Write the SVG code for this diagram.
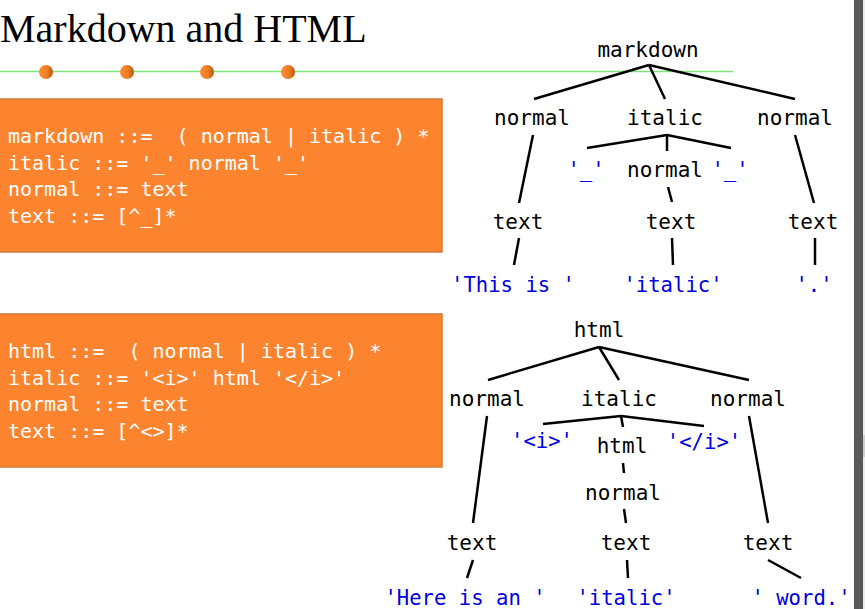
<svg xmlns="http://www.w3.org/2000/svg" width="865" height="609" viewBox="0 0 865 609">
<defs>
<linearGradient id="dot" x1="0" y1="0" x2="1" y2="0">
<stop offset="0" stop-color="#fb8f35"/>
<stop offset="0.6" stop-color="#ec7a22"/>
<stop offset="1" stop-color="#b9570f"/>
</linearGradient>
<style>
.title{font-family:"Liberation Serif",serif;font-size:40px;fill:#000}
.code{font-family:"DejaVu Sans Mono","Liberation Mono",monospace;font-size:20px;fill:#fff;white-space:pre}
.box{fill:#fd842e;stroke:#cf7a3c;stroke-width:1.5}
.lbl{font-family:"DejaVu Sans Mono",monospace;font-size:21px;fill:#000;text-anchor:middle;white-space:pre}
.leaf{font-family:"DejaVu Sans Mono",monospace;font-size:20.6px;fill:#0000e0;text-anchor:middle;white-space:pre}
.edges line{stroke:#000;stroke-width:2.5;stroke-linecap:butt}
</style>
</defs>
<rect width="865" height="609" fill="#fff"/>
<text class="title" x="0" y="42">Markdown and HTML</text>
<line x1="0" y1="71.5" x2="733" y2="71.5" stroke="#80e27a" stroke-width="1.5"/>
<g id="dots" fill="url(#dot)">
<circle cx="46" cy="72" r="7"/>
<circle cx="127" cy="72" r="7"/>
<circle cx="207" cy="72" r="7"/>
<circle cx="288" cy="72" r="7"/>
</g>
<g id="grammar-markdown">
<rect class="box" x="-1" y="99" width="443" height="153"/>
<text class="code" x="8" y="143">markdown ::=  ( normal | italic ) *</text>
<text class="code" x="8" y="169.5">italic ::= '_' normal '_'</text>
<text class="code" x="8" y="196">normal ::= text</text>
<text class="code" x="8" y="222.5">text ::= [^_]*</text>
</g>
<g id="grammar-html">
<rect class="box" x="-1" y="314" width="443" height="153"/>
<text class="code" x="8" y="358">html ::=  ( normal | italic ) *</text>
<text class="code" x="8" y="384.5">italic ::= '&lt;i&gt;' html '&lt;/i&gt;'</text>
<text class="code" x="8" y="411">normal ::= text</text>
<text class="code" x="8" y="437.5">text ::= [^&lt;&gt;]*</text>
</g>
<g id="connectors" class="edges">
<line x1="649" y1="65" x2="534" y2="99"/>
<line x1="649" y1="65" x2="665" y2="99"/>
<line x1="649" y1="65" x2="795" y2="99"/>
<line x1="667" y1="135" x2="587" y2="148"/>
<line x1="667" y1="135" x2="667" y2="151"/>
<line x1="667" y1="135" x2="731" y2="148"/>
<line x1="668" y1="187" x2="672" y2="202"/>
<line x1="533" y1="135" x2="519" y2="203"/>
<line x1="795" y1="135" x2="814" y2="203"/>
<line x1="519" y1="238" x2="514" y2="265"/>
<line x1="672" y1="238" x2="673" y2="265"/>
<line x1="815" y1="238" x2="815" y2="265"/>
<line x1="599" y1="347" x2="488" y2="380"/>
<line x1="599" y1="347" x2="619" y2="380"/>
<line x1="599" y1="347" x2="749" y2="380"/>
<line x1="621" y1="416" x2="543" y2="424"/>
<line x1="621" y1="416" x2="623" y2="427"/>
<line x1="621" y1="416" x2="704" y2="426"/>
<line x1="623" y1="463" x2="624" y2="473"/>
<line x1="624" y1="509" x2="626" y2="523"/>
<line x1="487" y1="416" x2="473" y2="523"/>
<line x1="749" y1="416" x2="768" y2="523"/>
<line x1="473" y1="560" x2="467" y2="578"/>
<line x1="627" y1="560" x2="628" y2="578"/>
<line x1="768" y1="560" x2="801" y2="578"/>
</g>
<g id="md-root"><text class="lbl" x="648" y="57">markdown</text></g>
<g id="md-normal1"><text class="lbl" x="532" y="125">normal</text></g>
<g id="md-italic"><text class="lbl" x="665" y="125">italic</text></g>
<g id="md-normal2"><text class="lbl" x="795" y="125">normal</text></g>
<g id="md-us1"><text class="leaf" x="586" y="177">'_'</text></g>
<g id="md-normal3"><text class="lbl" x="665" y="177">normal</text></g>
<g id="md-us2"><text class="leaf" x="730" y="177">'_'</text></g>
<g id="md-text1"><text class="lbl" x="518" y="229">text</text></g>
<g id="md-text2"><text class="lbl" x="671" y="229">text</text></g>
<g id="md-text3"><text class="lbl" x="813" y="229">text</text></g>
<g id="md-leaf1"><text class="leaf" x="513" y="292">'This is '</text></g>
<g id="md-leaf2"><text class="leaf" x="673" y="292">'italic'</text></g>
<g id="md-leaf3"><text class="leaf" x="814" y="292">'.'</text></g>
<g id="html-root"><text class="lbl" x="599" y="337">html</text></g>
<g id="html-normal1"><text class="lbl" x="487" y="406">normal</text></g>
<g id="html-italic"><text class="lbl" x="619" y="406">italic</text></g>
<g id="html-normal2"><text class="lbl" x="748" y="406">normal</text></g>
<g id="html-open"><text class="leaf" x="542" y="448">'&lt;i&gt;'</text></g>
<g id="html-inner"><text class="lbl" x="622" y="453">html</text></g>
<g id="html-close"><text class="leaf" x="704" y="449">'&lt;/i&gt;'</text></g>
<g id="html-normal3"><text class="lbl" x="623" y="500">normal</text></g>
<g id="html-text1"><text class="lbl" x="472" y="550">text</text></g>
<g id="html-text2"><text class="lbl" x="626" y="550">text</text></g>
<g id="html-text3"><text class="lbl" x="768" y="550">text</text></g>
<g id="html-leaf1"><text class="leaf" x="465" y="605">'Here is an '</text></g>
<g id="html-leaf2"><text class="leaf" x="626" y="605">'italic'</text></g>
<g id="html-leaf3"><text class="leaf" x="801" y="605">' word.'</text></g>
<rect x="854" y="0" width="9" height="609" fill="#595959"/>
<rect x="863" y="0" width="2" height="609" fill="#ececec"/>
<rect x="863" y="435" width="2" height="22" fill="#cfcfcf"/>
</svg>
